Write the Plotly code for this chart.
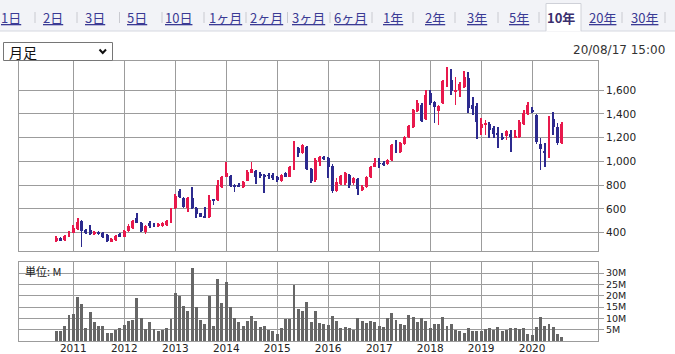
import plotly.graph_objects as go
import pandas as pd

# ---------------- data (monthly candles, Sep 2010 - Aug 2020) ----------------
months = pd.date_range("2010-09-01", periods=120, freq="MS")

open_ = [334, 353, 337, 367, 401, 429, 502, 423, 423, 387,
         409, 395, 381, 325, 339, 387, 367, 418, 443, 527,
         485, 404, 480, 468, 457, 460, 466, 485, 606, 752,
         690, 606, 690, 612, 564, 541, 530, 682, 676, 788,
         872, 881, 802, 802, 788, 839, 906, 920, 887, 887,
         886, 887, 872, 839, 901, 872, 934, 1117, 1075, 1120,
         934, 844, 999, 1041, 1033, 962, 755, 811, 816, 887,
         816, 850, 760, 783, 867, 957, 985, 990, 979, 1013,
         1139, 1083, 1148, 1209, 1294, 1428, 1476, 1355, 1574, 1504,
         1428, 1490, 1653, 1687, 1588, 1602, 1625, 1701, 1476, 1468,
         1285, 1308, 1316, 1280, 1232, 1204, 1215, 1232, 1204, 1204,
         1316, 1400, 1434, 1392, 1148, 1091, 1063, 1355, 1294, 1159]

close_ = [359, 337, 373, 409, 437, 494, 418, 395, 387, 409,
          387, 367, 334, 348, 373, 367, 418, 457, 502, 485,
          418, 460, 460, 457, 471, 480, 496, 606, 710, 699,
          615, 690, 606, 558, 536, 530, 676, 671, 802, 872,
          901, 794, 788, 790, 830, 915, 934, 872, 878, 872,
          879, 864, 844, 887, 872, 957, 1131, 1069, 1139, 934,
          839, 1013, 1041, 1027, 951, 755, 830, 878, 901, 802,
          858, 766, 788, 872, 957, 990, 979, 976, 1013, 1139,
          1083, 1159, 1209, 1299, 1434, 1490, 1344, 1560, 1490, 1462,
          1468, 1681, 1687, 1597, 1602, 1653, 1715, 1448, 1440, 1336,
          1316, 1316, 1265, 1232, 1223, 1195, 1260, 1209, 1215, 1336,
          1411, 1476, 1420, 1167, 1103, 1069, 1372, 1294, 1153, 1316]

high_ = [373, 365, 380, 415, 466, 527, 510, 430, 466, 415,
         415, 405, 390, 355, 378, 395, 425, 470, 510, 564,
         490, 466, 500, 480, 480, 490, 505, 612, 730, 765,
         698, 700, 788, 620, 570, 620, 718, 685, 844, 880,
         999, 890, 810, 816, 835, 925, 999, 930, 915, 895,
         900, 900, 880, 893, 910, 965, 1176, 1125, 1150, 1130,
         945, 1027, 1047, 1047, 1040, 975, 858, 890, 910, 895,
         870, 858, 800, 880, 965, 1027, 1027, 1000, 1020, 1150,
         1181, 1165, 1215, 1305, 1440, 1518, 1490, 1600, 1602, 1510,
         1475, 1690, 1799, 1776, 1715, 1673, 1765, 1757, 1546, 1490,
         1364, 1350, 1336, 1300, 1290, 1237, 1265, 1265, 1265, 1350,
         1434, 1504, 1462, 1400, 1195, 1153, 1380, 1420, 1322, 1336]

low_ = [325, 330, 332, 362, 395, 420, 283, 385, 380, 380,
        382, 355, 325, 318, 330, 360, 360, 410, 435, 478,
        410, 390, 437, 445, 445, 450, 460, 480, 600, 690,
        608, 578, 600, 522, 530, 527, 525, 634, 670, 780,
        865, 788, 746, 783, 780, 835, 900, 810, 860, 738,
        855, 840, 830, 830, 865, 865, 925, 1040, 1060, 925,
        822, 830, 962, 1013, 860, 738, 740, 800, 805, 780,
        805, 718, 750, 775, 860, 950, 943, 965, 970, 1005,
        1075, 1075, 1140, 1200, 1285, 1420, 1330, 1345, 1476, 1322,
        1308, 1485, 1630, 1560, 1476, 1546, 1616, 1406, 1392, 1187,
        1223, 1223, 1195, 1195, 1111, 1181, 1181, 1083, 1195, 1195,
        1310, 1390, 1406, 1150, 929, 957, 1027, 1223, 1139, 1145]

volume_m = [4.4, 4.4, 6.6, 11.5, 11.9, 19.4, 16.3, 5.7, 12.6, 8.2,
            6.6, 6.6, 3.5, 3.5, 4.7, 5.7, 7.1, 8.8, 9.3, 19.0,
            10.1, 5.3, 8.4, 5.3, 4.4, 4.7, 5.7, 9.7, 21.2, 19.7,
            15.4, 13.2, 32.2, 14.7, 9.3, 7.5, 19.8, 6.6, 27.3, 16.8,
            26.0, 14.8, 10.1, 8.4, 6.6, 8.8, 11.0, 8.8, 6.2, 6.6,
            4.7, 4.4, 3.1, 5.7, 9.7, 9.7, 24.7, 14.1, 13.2, 17.2,
            8.4, 13.2, 7.9, 7.5, 7.1, 11.0, 8.8, 5.7, 6.2, 5.7,
            4.9, 10.1, 8.5, 7.9, 8.8, 8.4, 6.6, 6.2, 10.1, 12.3,
            9.3, 7.5, 7.1, 11.5, 10.6, 8.4, 10.1, 8.8, 5.7, 7.5,
            7.5, 10.6, 6.6, 7.5, 4.9, 4.4, 3.5, 5.7, 4.4, 4.4,
            4.4, 5.3, 5.7, 4.9, 6.2, 4.4, 4.9, 5.7, 5.7, 5.3,
            5.7, 3.1, 2.6, 6.2, 10.6, 6.6, 7.5, 6.2, 3.1, 1.8]

price_ticks = [400, 600, 800, 1000, 1200, 1400, 1600]
vol_ticks = [5, 10, 15, 20, 25, 30]
vol_tick_text = ["5M", "10M", "15M", "20M", "25M", "30M"]
year_ticks = ["2011-01-01", "2012-01-01", "2013-01-01", "2014-01-01", "2015-01-01",
              "2016-01-01", "2017-01-01", "2018-01-01", "2019-01-01", "2020-01-01"]
year_text = ["2011", "2012", "2013", "2014", "2015", "2016", "2017", "2018", "2019", "2020"]

tabs = ["1日", "2日", "3日", "5日", "10日", "1ヶ月", "2ヶ月", "3ヶ月", "6ヶ月",
        "1年", "2年", "3年", "5年", "10年", "20年", "30年"]
selected_tab = "10年"
period_label = "月足"
timestamp = "20/08/17 15:00"
unit_label = "単位: M"

# ---------------- styling / geometry ----------------
W, H = 675, 354
ML, MR, MT, MB = 19, 77, 61, 13
PW, PH = W - ML - MR, H - MT - MB

def fx(x):
    return (x - ML) / PW

def fy(y):
    return (H - MB - y) / PH

RED = "#e8194c"
BLUE = "#2c2a8e"
VOLC = "#666666"
GRID = "#9c9c9c"
TXT = "#222222"
LINK = "#3a3a94"
AXFONT = dict(family="DejaVu Sans", size=10.5, color=TXT)
VOLFONT = dict(family="DejaVu Sans", size=9.5, color=TXT)
JPFONT = "Noto Sans CJK JP"

DAY = 86400000
body_w = 21 * DAY
wick_w = 6 * DAY

fig = go.Figure()

up = [i for i in range(len(months)) if close_[i] >= open_[i]]
dn = [i for i in range(len(months)) if close_[i] < open_[i]]
for idx, col in ((up, RED), (dn, BLUE)):
    xs = [months[i] for i in idx]
    fig.add_bar(x=xs, y=[high_[i] - low_[i] for i in idx], base=[low_[i] for i in idx],
                width=wick_w, marker=dict(color=col, line=dict(width=0)),
                xaxis="x", yaxis="y", hoverinfo="skip", showlegend=False)
    fig.add_bar(x=xs, y=[abs(close_[i] - open_[i]) for i in idx],
                base=[min(open_[i], close_[i]) for i in idx],
                width=body_w, marker=dict(color=col, line=dict(width=0)),
                xaxis="x", yaxis="y", hoverinfo="skip", showlegend=False)

fig.add_bar(x=months, y=volume_m, width=body_w,
            marker=dict(color=VOLC, line=dict(width=0)),
            xaxis="x2", yaxis="y2", hoverinfo="skip", showlegend=False)

xcommon = dict(type="date", range=["2009-12-08", "2021-04-17"],
               tickvals=year_ticks, ticktext=year_text,
               showgrid=True, gridcolor=GRID, gridwidth=1,
               showline=True, mirror=True, linecolor=GRID, linewidth=1,
               zeroline=False, automargin=False, fixedrange=True)

fig.update_layout(
    width=W, height=H,
    margin=dict(l=ML, r=MR, t=MT, b=MB, pad=0),
    paper_bgcolor="white", plot_bgcolor="white",
    barmode="overlay", bargap=0, bargroupgap=0,
    showlegend=False,
    xaxis=dict(**xcommon, anchor="y", showticklabels=False, ticks=""),
    xaxis2=dict(**xcommon, anchor="y2", matches="x", showticklabels=True,
                ticks="", tickfont=AXFONT, ticklabelstandoff=-3),
    yaxis=dict(domain=[fy(251), 1], range=[246, 1846], side="right",
               tickvals=price_ticks, tickformat=",", ticks="outside", ticklen=5,
               tickcolor=GRID, showgrid=True, gridcolor=GRID, showline=True,
               mirror=True, linecolor=GRID, zeroline=False, tickfont=AXFONT,
               automargin=False, fixedrange=True),
    yaxis2=dict(domain=[0, fy(262.3)], range=[0, 34.8], side="right",
                tickvals=vol_ticks, ticktext=vol_tick_text, ticks="outside", ticklen=5,
                tickcolor=GRID, showgrid=True, gridcolor=GRID, showline=True,
                mirror=True, linecolor=GRID, zeroline=False, tickfont=VOLFONT,
                automargin=False, fixedrange=True),
)

shapes = []
annots = []

# tab bar background
shapes.append(dict(type="rect", xref="paper", yref="paper", x0=fx(0), x1=fx(W),
                   y0=fy(0), y1=fy(31), fillcolor="#f2f3f7", line=dict(width=0), layer="below"))
shapes.append(dict(type="line", xref="paper", yref="paper", x0=fx(0), x1=fx(W),
                   y0=fy(31), y1=fy(31), line=dict(color="#d6d8e0", width=1)))
# selected tab
shapes.append(dict(type="rect", xref="paper", yref="paper", x0=fx(546), x1=fx(581),
                   y0=fy(3.5), y1=fy(31.5), fillcolor="white", line=dict(width=0)))
shapes.append(dict(type="path", xref="paper", yref="paper",
                   path="M %f,%f L %f,%f L %f,%f L %f,%f" % (fx(546), fy(31), fx(546), fy(3.5),
                                                            fx(581), fy(3.5), fx(581), fy(31)),
                   line=dict(color="#cfd1d8", width=1)))

tab_centers = [10.5, 53, 95, 136.5, 178.5, 225, 266.5, 308.5, 350.5,
               392.5, 434.5, 477, 518.5, 561, 602.5, 644.5]
for name, cx in zip(tabs, tab_centers):
    if name == selected_tab:
        txt = "<b>%s</b>" % name
        col = "#3a2f6e"
    else:
        txt = "<u>%s</u>" % name
        col = LINK
    annots.append(dict(text=txt, xref="paper", yref="paper", x=fx(cx), y=fy(17.5),
                       xanchor="center", yanchor="middle", showarrow=False,
                       font=dict(family=JPFONT, size=13, color=col)))
for sx in [35, 77, 119.5, 162, 204, 246, 287.5, 330, 372, 413, 455, 498, 539, 622, 665]:
    shapes.append(dict(type="line", xref="paper", yref="paper", x0=fx(sx), x1=fx(sx),
                       y0=fy(12), y1=fy(23), line=dict(color="#c9cad0", width=1)))

# dropdown
shapes.append(dict(type="rect", xref="paper", yref="paper", x0=fx(3.5), x1=fx(112.5),
                   y0=fy(42.5), y1=fy(60.5), fillcolor="white",
                   line=dict(color="#767676", width=1)))
shapes.append(dict(type="path", xref="paper", yref="paper",
                   path="M %f,%f L %f,%f L %f,%f" % (fx(99.5), fy(49.5), fx(102.75), fy(53),
                                                    fx(106), fy(49.5)),
                   line=dict(color="#111111", width=2)))
annots.append(dict(text=period_label, xref="paper", yref="paper", x=fx(7), y=fy(52),
                   xanchor="left", yanchor="middle", showarrow=False,
                   font=dict(family=JPFONT, size=14, color="#111111")))

# timestamp
annots.append(dict(text=timestamp, xref="paper", yref="paper", x=fx(667), y=fy(50.5),
                   xanchor="right", yanchor="middle", showarrow=False,
                   font=dict(family="DejaVu Sans", size=12, color="#333333")))

# unit label in volume panel
annots.append(dict(text=unit_label, xref="paper", yref="paper", x=fx(23), y=fy(271),
                   xanchor="left", yanchor="middle", showarrow=False,
                   font=dict(family=JPFONT, size=11, color=TXT)))

fig.update_layout(shapes=shapes, annotations=annots)
fig.write_html("out.html")
